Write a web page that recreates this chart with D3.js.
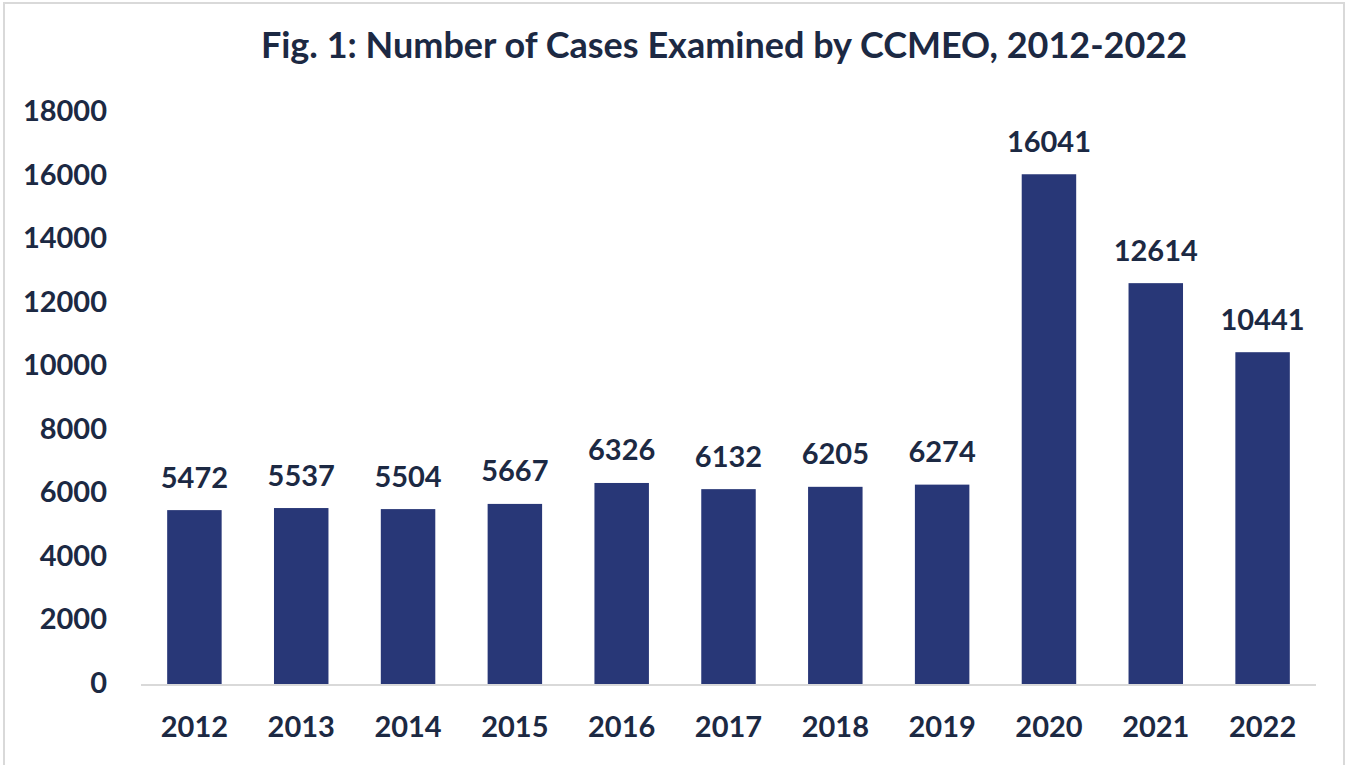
<!DOCTYPE html>
<html lang="en">

<head>
  <meta charset="UTF-8">
  <title>Fig. 1: Number of Cases Examined by CCMEO</title>
  <style>
    body {
      margin: 0;
      background: #fff;
    }

    svg text {
      font-family: Lato, "Open Sans", sans-serif;
      font-weight: 700;
      fill: #1c2943;
    }

    .frame {
      fill: none;
      stroke: #d9d9d9;
      stroke-width: 2;
    }

    .bar {
      fill: #283777;
    }

    .baseline {
      stroke: #d9d9d9;
      stroke-width: 2;
    }
  </style>
</head>

<body>
  <div id="chart"></div>

  <script src="https://d3js.org/d3.v7.min.js"></script>

  <script>
    const years = ['2012', '2013', '2014', '2015', '2016', '2017', '2018', '2019', '2020', '2021', '2022'];
    const cases = [5472, 5537, 5504, 5667, 6326, 6132, 6205, 6274, 16041, 12614, 10441];
    const yTicks = [0, 2000, 4000, 6000, 8000, 10000, 12000, 14000, 16000, 18000];

    (function () {
      const width = 1351;
      const height = 765;

      const svg = d3.select('#chart')
        .append('svg')
        .attr('width', width)
        .attr('height', height);

      svg.append('rect')
        .classed('frame', true)
        .attr('x', 4)
        .attr('y', 3)
        .attr('width', 1340)
        .attr('height', 780);

      const x = d3.scaleBand()
        .domain(years)
        .range([141, 1316])
        .paddingInner(0.49)
        .paddingOuter(0.245);

      const y = d3.scaleLinear()
        .domain([0, 18000])
        .range([684, 112]);

      // title
      svg.append('text')
        .attr('x', 724)
        .attr('y', 44)
        .attr('text-anchor', 'middle')
        .attr('dominant-baseline', 'central')
        .style('font-size', '36px')
        .text('Fig. 1: Number of Cases Examined by CCMEO, 2012-2022');

      // y axis labels only, no line or ticks
      const yAxis = svg.append('g')
        .attr('transform', 'translate(107,0)')
        .call(d3.axisLeft(y).tickValues(yTicks).tickFormat(d3.format('d')).tickSize(0).tickPadding(0));
      yAxis.select('.domain').remove();
      yAxis.selectAll('text')
        .attr('dy', null)
        .attr('y', -3)
        .attr('dominant-baseline', 'central')
        .style('font-size', '29px')
        .attr('fill', null);

      // bars
      svg.append('g')
        .selectAll('.bar')
        .data(cases)
        .enter()
        .append('rect')
        .classed('bar', true)
        .attr('x', (d, i) => x(years[i]))
        .attr('y', d => y(d))
        .attr('width', x.bandwidth())
        .attr('height', d => y(0) - y(d));

      // baseline
      svg.append('line')
        .classed('baseline', true)
        .attr('x1', 141)
        .attr('x2', 1316)
        .attr('y1', y(0) + 1)
        .attr('y2', y(0) + 1);

      // value labels
      svg.append('g')
        .selectAll('text')
        .data(cases)
        .enter()
        .append('text')
        .attr('x', (d, i) => x(years[i]) + x.bandwidth() / 2)
        .attr('y', d => y(d) - 34)
        .attr('text-anchor', 'middle')
        .attr('dominant-baseline', 'central')
        .style('font-size', '29px')
        .text(d => d);

      // x axis labels
      const xAxis = svg.append('g')
        .attr('transform', 'translate(0,' + y(0) + ')')
        .call(d3.axisBottom(x).tickSize(0).tickPadding(0));
      xAxis.select('.domain').remove();
      xAxis.selectAll('text')
        .attr('dy', null)
        .attr('y', 41)
        .attr('dominant-baseline', 'central')
        .style('font-size', '29px')
        .attr('fill', null);
    })();
  </script>
</body>

</html>
